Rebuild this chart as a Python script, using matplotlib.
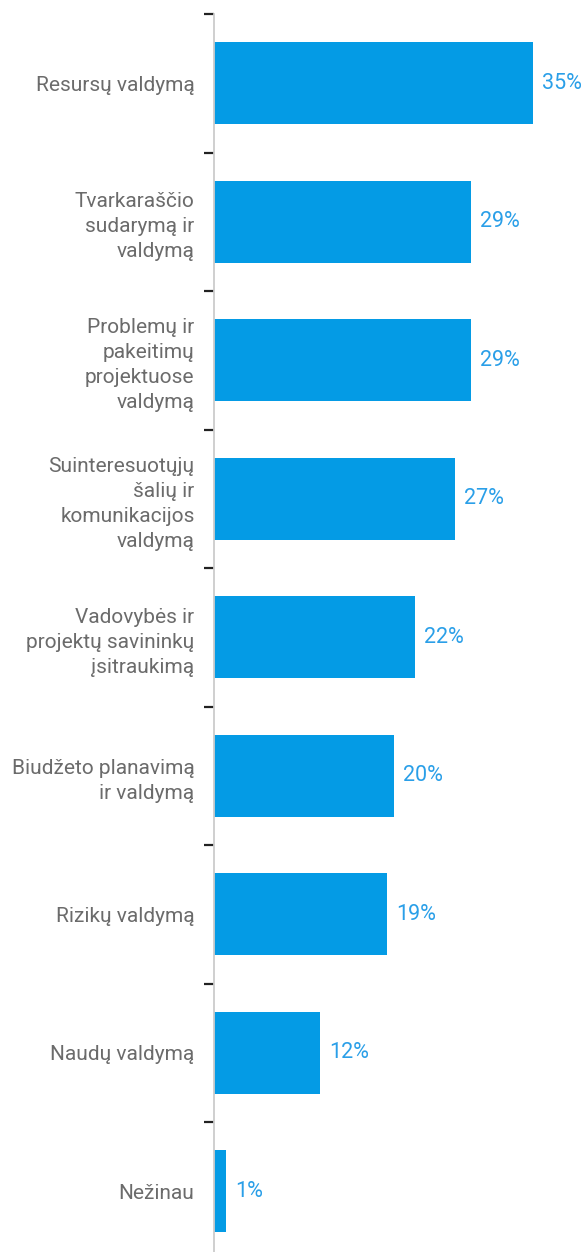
import numpy as np
import matplotlib.pyplot as plt

# categories and values (share of respondents, %)
categories = ["Resursų valdymą",
              "Tvarkaraščio\nsudarymą ir\nvaldymą",
              "Problemų ir\npakeitimų\nprojektuose\nvaldymą",
              "Suinteresuotųjų\nšalių ir\nkomunikacijos\nvaldymą",
              "Vadovybės ir\nprojektų savininkų\nįsitraukimą",
              "Biudžeto planavimą\nir valdymą",
              "Rizikų valdymą",
              "Naudų valdymą",
              "Nežinau"]
values = [35.2, 28.4, 28.4, 26.6, 22.2, 19.9, 19.1, 11.7, 1.3]
value_labels = ["35%", "29%", "29%", "27%", "22%", "20%", "19%", "12%", "1%"]

bar_color = '#049be5'
text_color = '#6b6b6b'
label_color = '#2a9fe8'

fig = plt.figure(figsize=(5.88, 12.52), dpi=100)
ax = fig.add_axes([214/588, -8.5/1252, 362/588, 1246.5/1252])

y = np.arange(len(categories))
ax.barh(y, values, height=0.59, color=bar_color)

ax.set_xlim(0, 40)
ax.set_ylim(len(categories) - 0.5, -0.5)

for yi, v, lab in zip(y, values, value_labels):
    ax.text(v + 1.0, yi, lab, va='center', ha='left', color=label_color,
            fontsize=15.5, family='Roboto')

ax.set_yticks(y)
ax.set_yticklabels(categories, fontsize=15, color=text_color, family='Roboto',
                   linespacing=1.4)
ax.tick_params(axis='y', which='major', length=0, pad=14)
ax.set_yticks(np.arange(-0.5, len(categories), 1.0), minor=True)
ax.tick_params(axis='y', which='minor', length=7, width=1.6, color='#222222')

ax.set_xticks([])
for s in ['top', 'right', 'bottom']:
    ax.spines[s].set_visible(False)
ax.spines['left'].set_color('#cccccc')
ax.spines['left'].set_linewidth(1.3)

fig.savefig('out.png', dpi=100)
